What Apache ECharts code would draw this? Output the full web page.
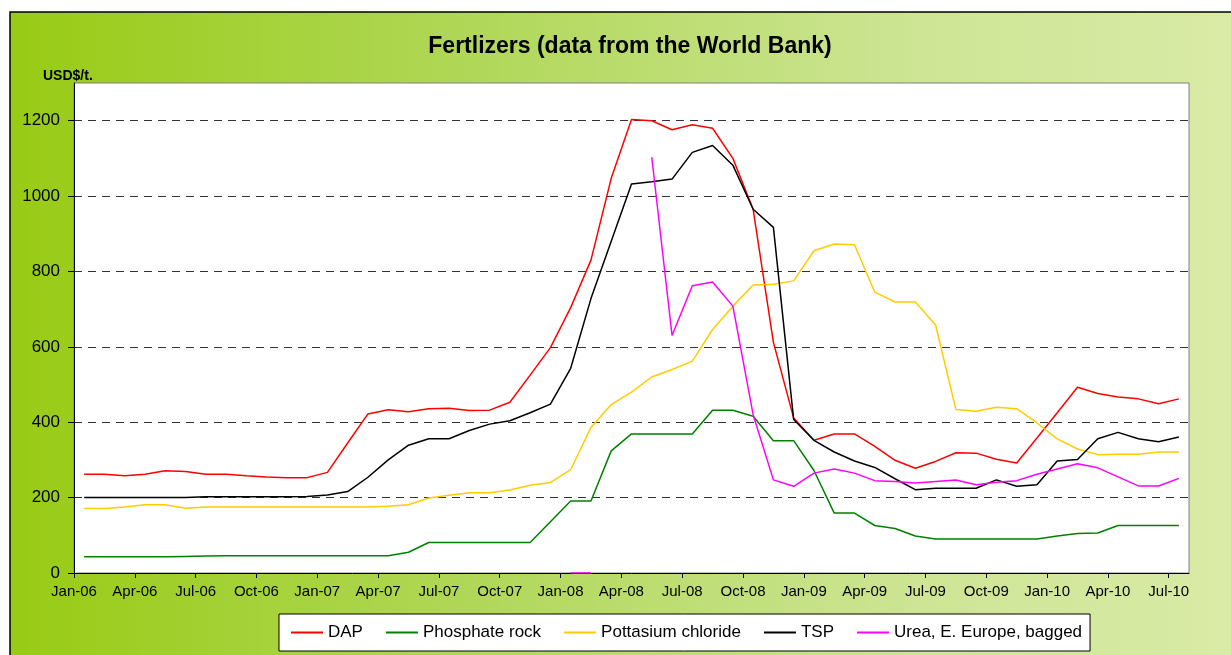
<!DOCTYPE html>
<html>
<head>
<meta charset="utf-8">
<script src="https://cdn.jsdelivr.net/npm/echarts@6/dist/echarts.min.js"></script>
<style>
  html, body { margin: 0; padding: 0; background: #fff; }
  #chart { width: 1231px; height: 655px; }
</style>
</head>
<body>
<div id="chart"></div>
<script>
// months Jan-06 .. Jul-10, one point per month (plotted mid-month)
var months = [
  "Jan-06","Feb-06","Mar-06","Apr-06","May-06","Jun-06","Jul-06","Aug-06","Sep-06","Oct-06","Nov-06","Dec-06",
  "Jan-07","Feb-07","Mar-07","Apr-07","May-07","Jun-07","Jul-07","Aug-07","Sep-07","Oct-07","Nov-07","Dec-07",
  "Jan-08","Feb-08","Mar-08","Apr-08","May-08","Jun-08","Jul-08","Aug-08","Sep-08","Oct-08","Nov-08","Dec-08",
  "Jan-09","Feb-09","Mar-09","Apr-09","May-09","Jun-09","Jul-09","Aug-09","Sep-09","Oct-09","Nov-09","Dec-09",
  "Jan-10","Feb-10","Mar-10","Apr-10","May-10","Jun-10","Jul-10"
];

// x axis labels, one every 3 months
var tickLabels = [
  "Jan-06","Apr-06","Jul-06","Oct-06","Jan-07","Apr-07","Jul-07","Oct-07","Jan-08","Apr-08",
  "Jul-08","Oct-08","Jan-09","Apr-09","Jul-09","Oct-09","Jan-10","Apr-10","Jul-10"
];

var dap = [
  262,262,258,262,271,269,262,262,258,255,253,253,
  267,345,422,433,428,436,437,431,432,453,525,598,
  704,830,1047,1203,1200,1176,1189,1180,1100,965,612,411,
  352,369,369,336,299,278,296,319,318,302,292,358,
  425,493,476,467,462,449,462
];

var phosphateRock = [
  43,43,43,43,43,44,45,46,46,46,46,46,
  46,46,46,46,55,81,81,81,81,81,81,136,
  191,191,324,369,369,369,369,432,432,416,351,351,
  272,159,159,126,118,98,90,90,90,90,90,90,
  98,105,106,126,126,126,126
];

var potassiumChloride = [
  171,171,175,181,181,172,175,175,175,175,175,175,
  175,175,175,177,181,199,206,213,213,220,233,240,
  274,386,447,480,520,540,562,646,708,764,766,775,
  855,873,871,745,719,719,658,434,429,440,436,398,
  356,329,314,315,315,321,321
];

var tsp = [
  200,200,200,200,200,200,202,202,202,202,202,203,
  207,216,254,300,339,356,356,378,395,404,425,448,
  543,728,880,1032,1038,1045,1116,1134,1082,965,917,407,
  352,321,297,280,250,221,225,225,225,247,230,234,
  297,301,356,373,356,348,361
];

var urea = [
  null,null,null,null,null,null,null,null,null,null,null,null,
  null,null,null,null,null,null,null,null,null,null,null,null,
  0,0,null,null,1103,630,762,772,708,420,247,230,
  265,276,265,245,243,239,243,247,234,241,245,262,
  276,290,279,255,231,231,251
];

var yTicks = [0, 200, 400, 600, 800, 1000, 1200];

var seriesNames = ["DAP", "Phosphate rock", "Pottasium chloride", "TSP", "Urea, E. Europe, bagged"];
var seriesColors = ["#ff0000", "#008000", "#ffcc00", "#000000", "#ff00ff"];
var seriesValues = [dap, phosphateRock, potassiumChloride, tsp, urea];

function toPoints(values) {
  return values.map(function (v, i) {
    return [i + 0.5, v === null ? "-" : v];
  });
}

var font = "'Liberation Sans', Arial, sans-serif";

var chart = echarts.init(document.getElementById("chart"));

chart.setOption({
  animation: false,
  textStyle: { fontFamily: font },
  graphic: [
    {
      type: "rect",
      z: -10,
      shape: { x: 10, y: 12, width: 1300, height: 700 },
      style: {
        fill: new echarts.graphic.LinearGradient(0, 0, 1, 0, [
          { offset: 0, color: "#98cb14" },
          { offset: 0.35, color: "#b0d757" },
          { offset: 0.7, color: "#cde595" },
          { offset: 1, color: "#dcecaa" }
        ]),
        stroke: "#000",
        lineWidth: 1.5
      }
    },
    {
      type: "text",
      x: 630,
      y: 47,
      style: {
        text: "Fertlizers (data from the World Bank)",
        font: "bold 23px " + font,
        fill: "#000",
        align: "center",
        verticalAlign: "middle"
      }
    },
    {
      type: "text",
      x: 43,
      y: 76,
      style: {
        text: "USD$/t.",
        font: "bold 14px " + font,
        fill: "#000",
        align: "left",
        verticalAlign: "middle"
      }
    }
  ],
  legend: {
    left: 279,
    top: 614,
    padding: [10, 8, 10, 12],
    backgroundColor: "#fff",
    borderColor: "#000",
    borderWidth: 1,
    itemWidth: 32,
    itemHeight: 2,
    itemGap: 23,
    icon: "rect",
    textStyle: { fontSize: 17, color: "#000", fontFamily: font },
    data: seriesNames
  },
  grid: {
    left: 74,
    right: 42,
    top: 83,
    bottom: 82,
    show: true,
    backgroundColor: "#fff",
    borderColor: "#808080",
    borderWidth: 1
  },
  xAxis: {
    type: "value",
    min: 0,
    max: months.length,
    interval: 3,
    axisLine: { show: true, lineStyle: { color: "#000", width: 1 } },
    axisTick: {
      show: true,
      length: 5,
      lineStyle: { color: "#000" },
      customValues: tickLabels.map(function (t, i) { return i * 3; })
    },
    axisLabel: {
      fontSize: 15,
      color: "#000",
      margin: 11,
      customValues: tickLabels.map(function (t, i) { return i * 3; }),
      formatter: function (v) { return tickLabels[Math.round(v / 3)] || ""; }
    },
    splitLine: { show: false }
  },
  yAxis: {
    type: "value",
    min: 0,
    max: 1300,
    interval: 100,
    axisLine: { show: true, lineStyle: { color: "#000", width: 1 } },
    axisTick: {
      show: true,
      length: 6,
      lineStyle: { color: "#000" },
      customValues: yTicks
    },
    axisLabel: {
      fontSize: 17,
      color: "#000",
      margin: 14,
      customValues: yTicks,
      formatter: function (v) { return String(v); }
    },
    splitLine: {
      show: true,
      interval: function (index, value) { return value % 200 === 0 && value > 0 && value < 1300; },
      lineStyle: { color: "#333", width: 1, type: [8, 6] }
    }
  },
  series: seriesValues.map(function (vals, k) {
    return {
      name: seriesNames[k],
      type: "line",
      data: toPoints(vals),
      showSymbol: false,
      symbol: "none",
      connectNulls: false,
      lineStyle: { color: seriesColors[k], width: 1.5 },
      itemStyle: { color: seriesColors[k] },
      z: 3
    };
  })
});
</script>
</body>
</html>
